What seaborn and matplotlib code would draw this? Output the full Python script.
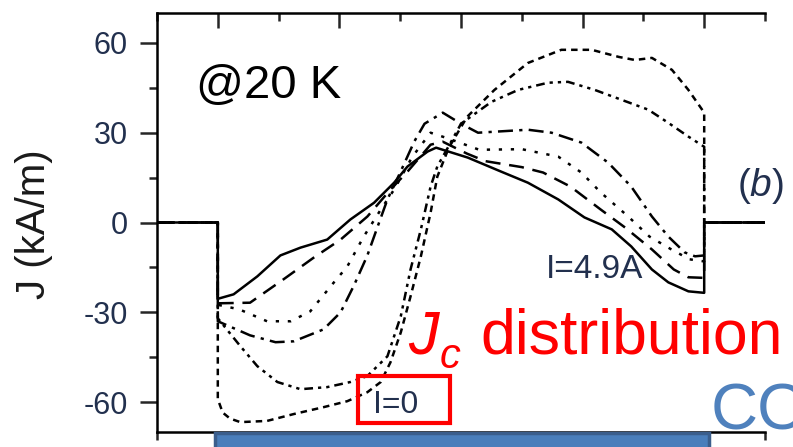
import numpy as np
import pandas as pd
import matplotlib
matplotlib.use("Agg")
import matplotlib.pyplot as plt
import matplotlib.transforms as mtransforms
from matplotlib.patches import Rectangle
import seaborn as sns

# ---------------- data ----------------
strip_edge = 4.0          # tape edges at x = -4 and x = +4
x_limits = (-5, 5)
y_limits = (-70, 70)
y_ticks = [-60, -30, 0, 30, 60]
y_minor = [-45, -15, 15, 45]
x_major = [-4, -2, 0, 2, 4]
x_minor = [-5, -3, -1, 1, 3, 5]

# I = 4.9 A (solid)
x1 = [-4.0, -3.74, -3.35, -2.97, -2.64, -2.2, -1.82, -1.43, -1.1, -0.88, -0.55, -0.41,
      0.11, 0.66, 1.1, 1.6, 2.03, 2.48, 2.8, 3.14, 3.41, 3.74, 4.0]
y1 = [-25.5, -24, -18, -11, -8.4, -5.7, 1, 6.6, 13.3, 18.7, 23.7, 25,
      21.7, 17, 13.3, 7.7, 1.7, -2.3, -8, -15.7, -20, -23, -23.5]
# long dash
x2 = [-4.0, -3.47, -2.92, -2.42, -1.98, -1.54, -1.16, -0.88, -0.5, -0.3, 0.1, 0.4, 1.0,
      1.35, 1.8, 2.3, 2.7, 3.14, 3.5, 3.74, 4.0]
y2 = [-27, -26.8, -19, -11.7, -5.7, 2, 11, 17, 26, 27, 23, 20.5, 18.5,
      16.7, 12, 4.3, -1.7, -9, -15.7, -18.3, -18.5]
# dotted
x3 = [-4.0, -3.65, -3.19, -2.8, -2.48, -2.09, -1.87, -1.6, -1.32, -1.1, -0.8, -0.5, -0.2,
      0.3, 1.0, 1.6, 1.98, 2.3, 2.75, 3.1, 3.46, 3.76, 4.0]
y3 = [-27.5, -29, -33, -33, -29.7, -20, -14.7, -4.7, 4.3, 11, 22, 30, 28,
      24.3, 24.5, 22, 16.7, 10, 2, -4.7, -9, -12.3, -13]
# dash-dot
x4 = [-4.0, -3.47, -3.05, -2.75, -2.26, -1.98, -1.76, -1.54, -1.37, -1.21, -1.0, -0.77,
      -0.6, -0.3, 0.0, 0.28, 1.1, 1.49, 1.98, 2.42, 2.8, 3.14, 3.41, 3.68, 3.85, 4.0]
y4 = [-33, -37.7, -40, -39.7, -35.7, -30, -21, -11, -1.3, 7.7, 16.7, 27,
      33, 36.7, 33, 30, 31, 30, 26.7, 20, 12, 2, -4.7, -10, -11.3, -11]
# dash-dot-dot
x5 = [-4.0, -3.63, -3.35, -3.02, -2.64, -2.2, -1.82, -1.54, -1.21, -0.99, -0.83, -0.66,
      -0.5, -0.39, -0.17, 0.0, 0.5, 0.94, 1.43, 1.76, 2.2, 2.64, 3.08, 3.41, 3.74, 4.0]
y5 = [-32, -41.3, -48, -53.3, -55.7, -55, -53.3, -51.3, -44.7, -31.3, -15.7, -2.3,
      12, 18.7, 26.7, 33, 40.3, 44.3, 46.7, 47, 44.3, 41, 37.7, 33.3, 28.7, 25.3]
# I = 0 (short dash)
x6 = [-4.0, -3.92, -3.8, -3.63, -3.19, -2.75, -2.26, -1.87, -1.54, -1.32, -1.16, -0.99,
      -0.83, -0.66, -0.5, -0.39, -0.2, 0.1, 0.55, 1.1, 1.65, 2.15, 2.6, 2.86, 3.14,
      3.47, 3.74, 4.0]
y6 = [-59, -63.5, -65.5, -66.7, -66.3, -64, -61.7, -59.7, -56.7, -53.3, -46.7, -36.7,
      -24.7, -11.3, 3.3, 15.3, 25, 35.3, 44.3, 53.3, 57.7, 57.7, 55.3, 54.3, 55,
      51, 44.3, 36.7]

curves = [
    ("I=4.9A", x1, y1, "-"),
    ("c2", x2, y2, (0, (6, 3.5))),
    ("c3", x3, y3, (0, (1.3, 3.5))),
    ("c4", x4, y4, (0, (6, 2.5, 1.3, 2.5))),
    ("c5", x5, y5, (0, (3.5, 2, 1.3, 2, 1.3, 2))),
    ("I=0", x6, y6, (0, (2.6, 2))),
]

# ---------------- style ----------------
sns.set_style("ticks")
plt.rcParams["font.family"] = ["Liberation Sans", "DejaVu Sans"]
plt.rcParams["axes.unicode_minus"] = False
plt.rcParams["mathtext.fontset"] = "custom"
plt.rcParams["mathtext.rm"] = "Liberation Sans"
plt.rcParams["mathtext.it"] = "Liberation Sans:italic"

W, H = 793, 447
fig = plt.figure(figsize=(W / 100, H / 100), dpi=100)
ax = fig.add_axes([157 / W, 1 - 432 / H, (765 - 157) / W, (432 - 13) / H])

for name, xs, ys, ls in curves:
    xx = [x_limits[0], -strip_edge] + list(xs) + [strip_edge, x_limits[1]]
    yy = [0, 0] + list(ys) + [0, 0]
    df = pd.DataFrame({"x": xx, "y": yy})
    sns.lineplot(data=df, x="x", y="y", sort=False, estimator=None, color="black",
                 linewidth=1.8, linestyle=ls, ax=ax, zorder=3)

ax.set_xlim(*x_limits)
ax.set_ylim(*y_limits)
ax.set_xlabel("")
ax.set_ylabel("")
ax.set_yticks(y_ticks)
ax.set_yticks(y_minor, minor=True)
ax.set_xticks(x_major)
ax.set_xticks(x_minor, minor=True)
ax.set_xticklabels([])

tick_color = "#22304e"
ax.spines["right"].set_visible(False)
for s in ["left", "top", "bottom"]:
    ax.spines[s].set_linewidth(1.8)
    ax.spines[s].set_color("black")

ax.tick_params(axis="y", which="major", direction="out", length=12, width=1.8,
               labelsize=22, labelcolor=tick_color, pad=9)
ax.tick_params(axis="y", which="minor", direction="out", length=6, width=1.8)
ax.tick_params(axis="y", right=False, which="both")
ax.tick_params(axis="x", which="both", top=True, bottom=True, labelbottom=False,
               labeltop=False, width=1.8)
ax.tick_params(axis="x", which="major", length=11)
ax.tick_params(axis="x", which="minor", length=6)
# top ticks point inward, bottom ones outward
for t in ax.xaxis.get_major_ticks() + ax.xaxis.get_minor_ticks():
    t.tick2line.set_marker(3)
    t.tick1line.set_marker(3)

# tape drawn under the axes
trans = mtransforms.blended_transform_factory(ax.transData, ax.transAxes)
ax.add_patch(Rectangle((-strip_edge - 0.04, -0.06), 2 * strip_edge + 0.12, 0.058,
                       transform=trans, facecolor="#4a7ebb", edgecolor="#3b5e8c",
                       linewidth=2.5, clip_on=False, zorder=10))

# ---------------- texts ----------------
def fx(px):
    return px / W

def fy(py):
    return 1 - py / H

fig.text(fx(34), fy(224), "J (kA/m)", rotation=90, ha="center", va="center",
         fontsize=29, color="#1a1a1a")
fig.text(fx(196), fy(98), "@20 K", ha="left", va="baseline", fontsize=34, color="black")
fig.text(fx(546), fy(278), "I=4.9A", ha="left", va="baseline", fontsize=24,
         color=tick_color)
fig.text(fx(737), fy(196), r"($\mathit{b}$)", ha="left", va="baseline", fontsize=28,
         color=tick_color)
fig.text(fx(408), fy(353), "J", ha="left", va="baseline", fontsize=44,
         color="#ff0000", style="italic")
fig.text(fx(440), fy(368), "c", ha="left", va="baseline", fontsize=30,
         color="#ff0000", style="italic")
fig.text(fx(480), fy(353), "distribution", ha="left", va="baseline", fontsize=45,
         color="#ff0000")
fig.text(fx(373), fy(413), "I=0", ha="left", va="baseline", fontsize=23,
         color=tick_color)
fig.add_artist(Rectangle((fx(358), fy(423)), fx(450) - fx(358), fy(376) - fy(423),
                         transform=fig.transFigure, fill=False, edgecolor="#ff0000",
                         linewidth=3))
fig.text(fx(711), fy(430), "CO", ha="left", va="baseline", fontsize=47,
         color="#4f81bd")

fig.savefig("out.png", dpi=100)
